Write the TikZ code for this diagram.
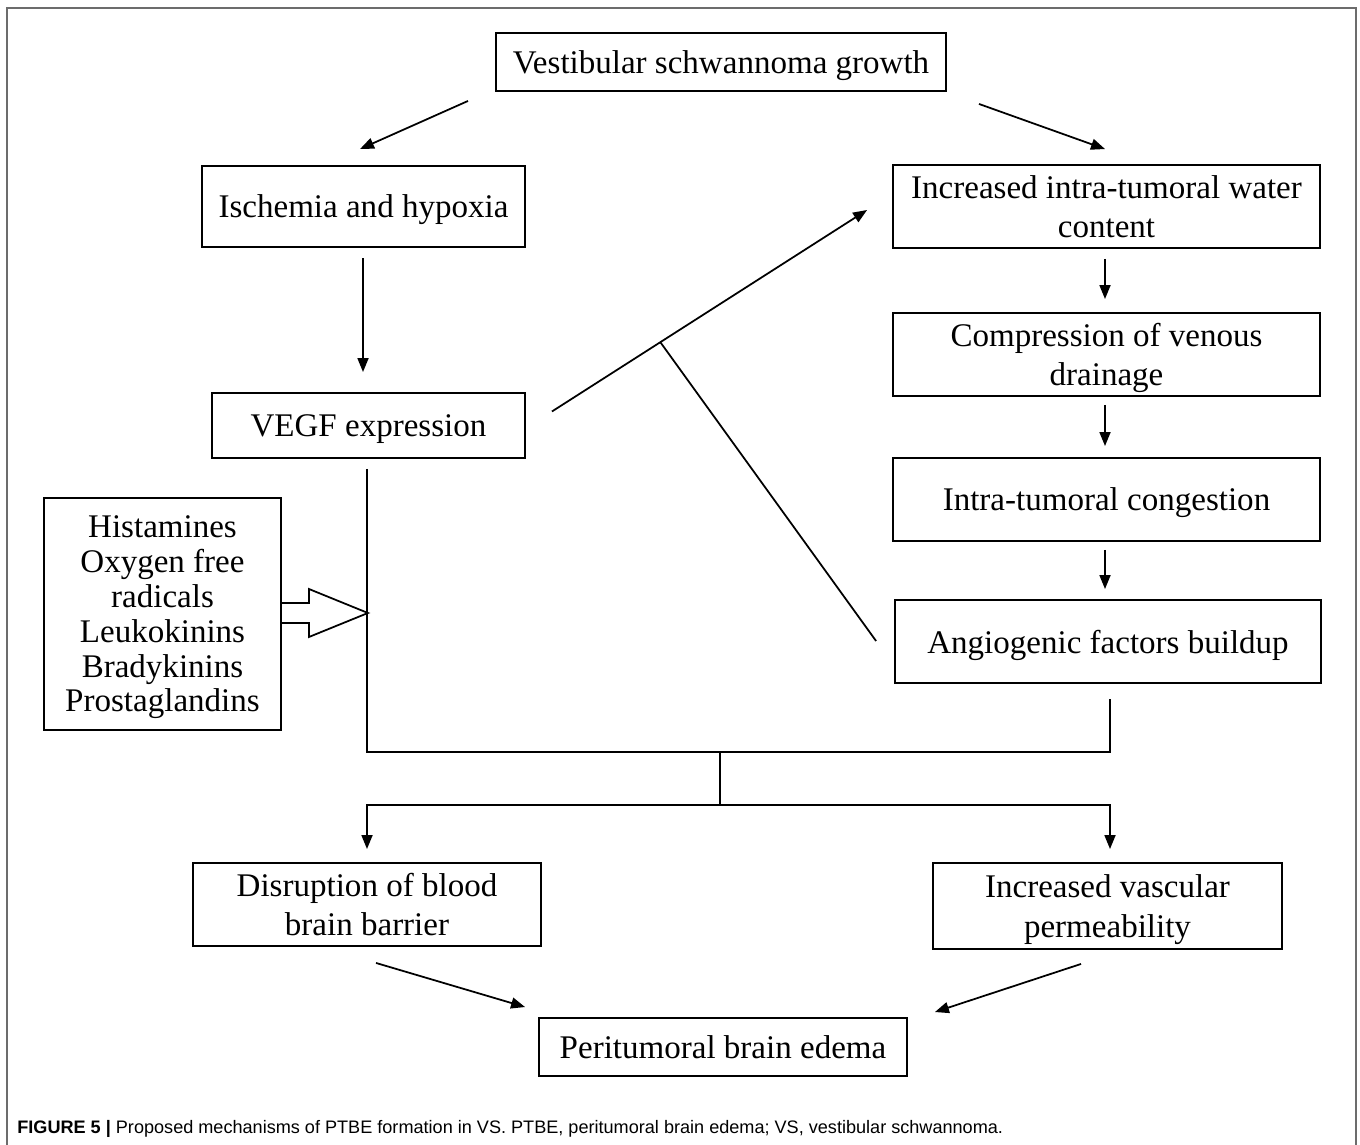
\documentclass[tikz,border=0pt]{standalone}
\usepackage{fontspec}
\setmainfont{Liberation Serif}
\newfontfamily\capfont{Liberation Sans}
\usepackage{tikz}
\usetikzlibrary{arrows.meta,calc}

\begin{document}
\begin{tikzpicture}[x=0.02cm, y=-0.02cm,
		mybox/.style={draw, line width=1.1pt, inner sep=0pt, align=center, text depth=0pt,
			font=\fontsize{18.8}{22.6}\selectfont},
		myline/.style={line width=1pt},
		myarrow/.style={myline, -{Triangle[length=0.28cm, width=0.22cm]}}
	]
	\useasboundingbox (0,0) rectangle (1360,1145);
	\draw[gray!85!black, line width=1.2pt] (7,1145) -- (7,8) -- (1356,8) -- (1356,1145);

	\node[mybox, minimum width=9cm, minimum height=1.16cm] (vs) at (721,62) {Vestibular schwannoma growth};

	\node[mybox, minimum width=6.46cm, minimum height=1.62cm] (isch) at (363.5,206.5) {Ischemia and hypoxia};
	\node[mybox, minimum width=6.26cm, minimum height=1.30cm] (vegf) at (368.5,425.5) {VEGF expression};
	\node[mybox, minimum width=4.74cm, minimum height=4.64cm,
		font=\fontsize{18.8}{19.8}\selectfont] (med) at (162.5,614)
		{Histamines\\Oxygen free\\radicals\\Leukokinins\\Bradykinins\\Prostaglandins};

	\node[mybox, minimum width=8.54cm, minimum height=1.66cm] (water) at (1106.5,206.5) {Increased intra-tumoral water\\content};
	\node[mybox, minimum width=8.54cm, minimum height=1.66cm] (comp) at (1106.5,354.5) {Compression of venous\\drainage};
	\node[mybox, minimum width=8.54cm, minimum height=1.66cm] (cong) at (1106.5,499.5) {Intra-tumoral congestion};
	\node[mybox, minimum width=8.52cm, minimum height=1.66cm] (angio) at (1108,641.5) {Angiogenic factors buildup};

	\node[mybox, minimum width=6.96cm, minimum height=1.66cm] (bbb) at (367,904.5) {Disruption of blood\\brain barrier};
	\node[mybox, minimum width=6.98cm, minimum height=1.72cm] (perm) at (1107.5,906) {Increased vascular\\permeability};
	\node[mybox, minimum width=7.36cm, minimum height=1.16cm] (edema) at (723,1047) {Peritumoral brain edema};

	\draw[myarrow] ($(vs.south)+(-253,9)$) -- ($(isch.north)+(-3.5,-16)$);
	\draw[myarrow] ($(vs.south)+(258,12)$) -- ($(water.north)+(-1.5,-15)$);
	\draw[myarrow] ($(isch.south)+(-0.5,10.5)$) -- ($(vegf.north)+(-5.5,-20)$);

	\draw[myarrow] ($(vegf.east)+(26,-14)$) -- coordinate[pos=0.344] (tj) ($(water.west)+(-25,3.5)$);
	\draw[myline] (tj) -- ($(angio.west)+(-18,-0.5)$);

	\draw[myarrow] ($(water.south)+(-1.5,10)$) -- ($(comp.north)+(-1.5,-13)$);
	\draw[myarrow] ($(comp.south)+(-1.5,8)$) -- ($(cong.north)+(-1.5,-11)$);
	\draw[myarrow] ($(cong.south)+(-1.5,8)$) -- ($(angio.north)+(-3,-10)$);

	\begin{scope}[shift={(med.east)}]
		\draw[myline, line join=miter] (0,-11) -- (27,-11) -- (27,-25) -- (86,-1) -- (27,23) -- (27,9) -- (0,9);
	\end{scope}

	\draw[myline] ($(vegf.south)+(-1.5,10)$) |- ($(angio.south)+(2,68)$) -- ($(angio.south)+(2,15)$);
	\coordinate (jn) at (720,751);
	\coordinate (sp) at (720,805);
	\draw[myline] (jn) -- (sp);
	\draw[myarrow] (sp) -| ($(bbb.north)+(0,-13)$);
	\draw[myarrow] (sp) -| ($(perm.north)+(2.5,-13)$);

	\draw[myarrow] ($(bbb.south)+(9,16)$) -- ($(edema.north west)+(-13,-10)$);
	\draw[myarrow] ($(perm.south)+(-26.5,14)$) -- ($(edema.north east)+(27,-5)$);

	\node[anchor=west, inner sep=0pt, font=\capfont\fontsize{10.3}{12}\selectfont] (cap) at (17,1129)
		{\textbf{FIGURE 5 |} Proposed mechanisms of PTBE formation in VS. PTBE, peritumoral brain edema; VS, vestibular schwannoma.};
\end{tikzpicture}
\end{document}
